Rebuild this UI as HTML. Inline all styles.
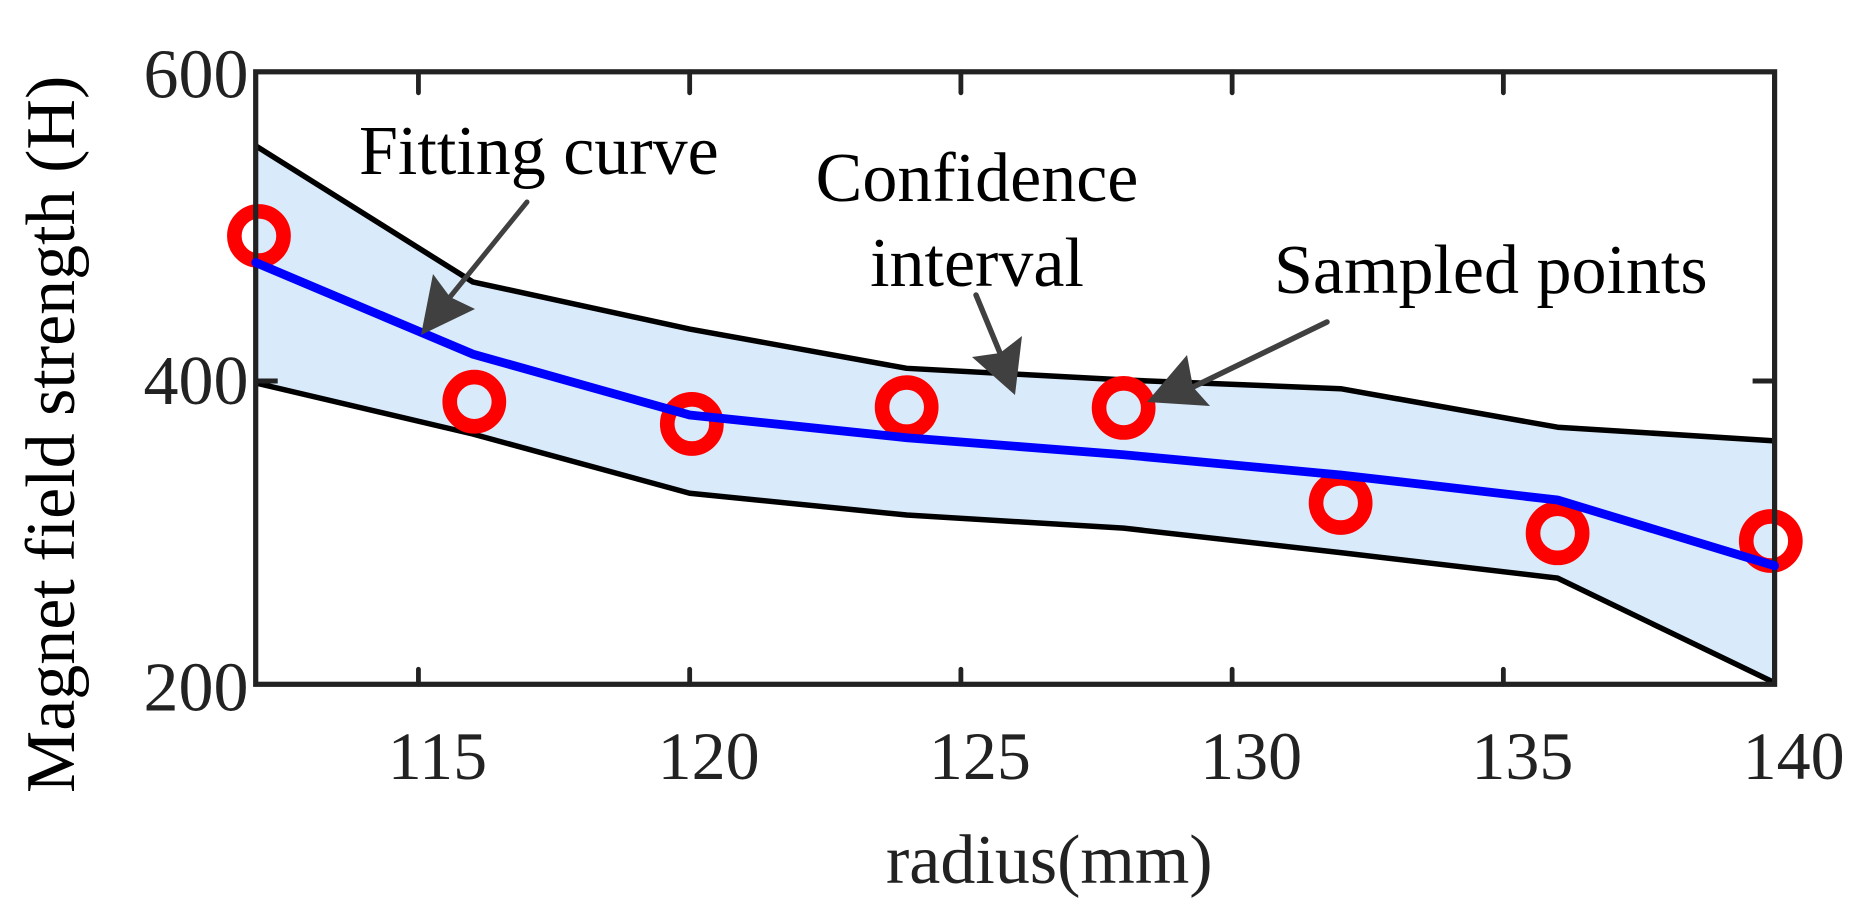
<!DOCTYPE html>
<html lang="en">
<head>
<meta charset="utf-8">
<title>Magnet field strength vs radius</title>
<style>
  html, body { margin: 0; padding: 0; background: #fff; }
  svg { display: block; }
  text { font-family: "Liberation Serif", serif; }
</style>
</head>
<body>
<svg id="chart" xmlns="http://www.w3.org/2000/svg" width="1875" height="913" viewBox="0 0 1875 913">
  <rect x="0" y="0" width="1875" height="913" fill="#fff"/>
  <g id="plot"></g>

  <text transform="translate(74 793) rotate(-90)" font-size="70" fill="#000">Magnet field strength (H)</text>
  <text x="886" y="883" font-size="70" fill="#222">radius(mm)</text>

  <text x="359" y="174" font-size="70" fill="#000">Fitting curve</text>
  <text x="977" y="201" font-size="70" fill="#000" text-anchor="middle">Confidence</text>
  <text x="977" y="286" font-size="70" fill="#000" text-anchor="middle">interval</text>
  <text x="1274" y="293" font-size="70" fill="#000">Sampled points</text>

  <g>
    <line x1="527" y1="202" x2="450" y2="297" stroke="#404040" stroke-width="5" stroke-linecap="round"/>
    <polygon points="421,335 433,274 450,297 475,309" fill="#404040"/>
  </g>
  <g>
    <line x1="976" y1="295" x2="1000" y2="353" stroke="#404040" stroke-width="5.5" stroke-linecap="round"/>
    <polygon points="1015,395 972,357 1000,353 1022,336" fill="#404040"/>
  </g>
  <g>
    <line x1="1327" y1="322" x2="1193" y2="387" stroke="#404040" stroke-width="5.5" stroke-linecap="round"/>
    <polygon points="1147,402 1187,355 1193,387 1210,406" fill="#404040"/>
  </g>
</svg>
<script>
const xKnots = [112, 116, 120, 124, 128, 132, 136, 140];
const upperBound = [552.1, 464.1, 433.6, 408.2, 400.7, 395, 370.1, 361.3];
const lowerBound = [398.7, 365.7, 327.4, 313.3, 304.8, 289, 272.5, 204.8];
const fittingCurve = [476.6, 417.4, 378, 363.3, 352.3, 339.2, 323, 280.5];
const sampleRadius = [112.06, 116.03, 120.04, 124, 128, 132, 136, 139.93];
const sampleField = [493.8, 386.6, 372.2, 383.1, 382.6, 321.1, 301.5, 296.5];
const xTickValues = [115, 120, 125, 130, 135, 140];
const yTickValues = [200, 400, 600];

const SVG_NS = 'http://www.w3.org/2000/svg';
const plot = document.getElementById('plot');
const chart = document.getElementById('chart');
const left = 255.7, right = 1774.6, top_ = 71.8, bottom = 684.3;
const xMin = 112, xMax = 140, yMin = 203.8, yMax = 600;

function xScale(v) { return left + (v - xMin) / (xMax - xMin) * (right - left); }
function yScale(v) { return bottom - (v - yMin) / (yMax - yMin) * (bottom - top_); }
function yLabelBaseline(v) { return 97.5 + (yMax - v) * 1.5325; }

function node(tag, attrs, parent) {
  const el = document.createElementNS(SVG_NS, tag);
  for (const k in attrs) el.setAttribute(k, attrs[k]);
  (parent || plot).appendChild(el);
  return el;
}
function pathFrom(xs, ys) {
  return xs.map((x, i) => (i ? 'L' : 'M') + xScale(x).toFixed(2) + ' ' + yScale(ys[i]).toFixed(2)).join(' ');
}

const lowerRev = pathFrom(xKnots.slice().reverse(), lowerBound.slice().reverse()).replace(/^M/, 'L');
const band = node('path', { d: pathFrom(xKnots, upperBound) + ' ' + lowerRev + ' Z', fill: '#d9eafa', stroke: 'none' });



const upperLine = node('path', { d: pathFrom(xKnots, upperBound), fill: 'none', stroke: '#000', 'stroke-width': 5.5, 'stroke-linejoin': 'round' });



const lowerLine = node('path', { d: pathFrom(xKnots, lowerBound), fill: 'none', stroke: '#000', 'stroke-width': 5.5, 'stroke-linejoin': 'round' });



sampleRadius.forEach((r, i) => {
  const c = node('circle', { cx: xScale(r).toFixed(2), cy: yScale(sampleField[i]).toFixed(2), r: 24.6, fill: 'none', stroke: '#ff0000', 'stroke-width': 14.6 });
  
  
});

const frame = node('rect', { x: left, y: top_, width: right - left, height: bottom - top_, fill: 'none', stroke: '#222', 'stroke-width': 5.2, 'stroke-linejoin': 'miter' });



xTickValues.forEach((t) => {
  const x = xScale(t);
  if (t < xMax) {
    const b = node('line', { x1: x, x2: x, y1: bottom, y2: bottom - 15, stroke: '#222', 'stroke-width': 4.8, 'stroke-linecap': 'round' });
    
    
    const u = node('line', { x1: x, x2: x, y1: top_, y2: top_ + 21, stroke: '#222', 'stroke-width': 4.8, 'stroke-linecap': 'round' });
    
    
  }
  const label = node('text', { x: x + 19, y: 779, 'font-size': 68, fill: '#222', 'text-anchor': 'middle' }, chart);
  
  
  label.textContent = String(t);
});

yTickValues.forEach((t) => {
  const y = yScale(t);
  if (t > yMin && t < yMax) {
    const a = node('line', { x1: left, x2: left + 22, y1: y, y2: y, stroke: '#222', 'stroke-width': 5 });
    
    
    const b = node('line', { x1: right, x2: right - 22, y1: y, y2: y, stroke: '#222', 'stroke-width': 5 });
    
    
  }
  const label = node('text', { x: 248.5, y: yLabelBaseline(t), 'font-size': 70, fill: '#222', 'text-anchor': 'end' }, chart);
  
  
  label.textContent = String(t);
});

const fitLine = node('path', { d: pathFrom(xKnots, fittingCurve), fill: 'none', stroke: '#0000ff', 'stroke-width': 8.8, 'stroke-linejoin': 'round', 'stroke-linecap': 'round' });


</script>
</body>
</html>
